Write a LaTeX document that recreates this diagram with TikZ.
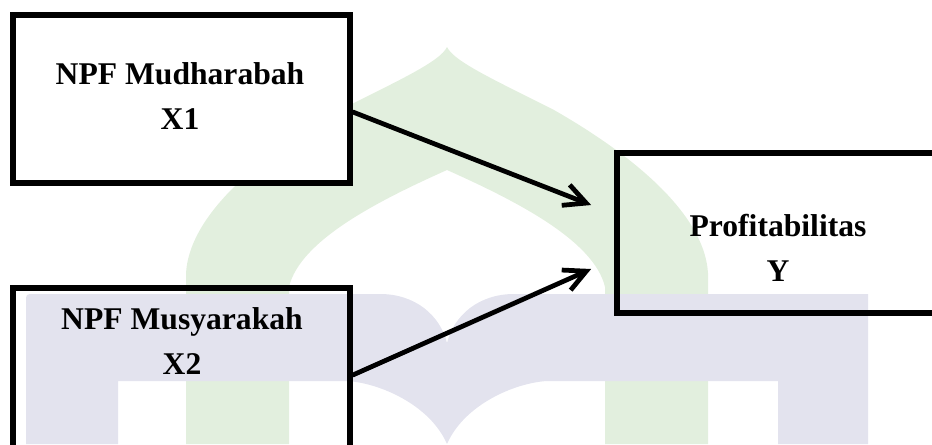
\documentclass[tikz,border=0pt]{standalone}
\usepackage{fontspec}
\setmainfont{Liberation Serif}
\usetikzlibrary{arrows.meta}

\definecolor{domegreen}{RGB}{226,239,222}
\definecolor{bandgray}{RGB}{227,227,238}

\begin{document}
\begin{tikzpicture}[x=0.02cm, y=-0.02cm,
    box/.style={draw=black, line width=3.3pt, inner sep=0pt},
    boxtext/.style={align=center, font=\fontsize{18}{25.6}\selectfont\bfseries},
    link/.style={line width=2.7pt, line cap=round, line join=round,
      -{Straight Barb[length=0.44cm, width=0.44cm]}}]
    \useasboundingbox (0,0) rectangle (932,444);
    \clip (0,0) rectangle (932,444);
    % dome behind the boxes
    \fill[domegreen] (186,444) -- (186,273)
      .. controls (190,210) and (270,150) .. (340,110)
      .. controls (395,82) and (440,62) .. (447,47)
      .. controls (454,62) and (499,82) .. (554,110)
      .. controls (624,150) and (704,210) .. (708,273)
      -- (708,444) -- (605,444) -- (605,287)
      .. controls (594,240) and (514,200) .. (447,170)
      .. controls (380,200) and (300,240) .. (289,287)
      -- (289,444) -- cycle;
    % band with the notch and the point
    \fill[bandgray] (26,444) -- (26,302) .. controls (26,294) .. (34,294)
      -- (380,294)
      .. controls (415,294) and (440,315) .. (447,343)
      .. controls (454,315) and (479,294) .. (514,294)
      -- (868,294) -- (868,444) -- (778,444) -- (778,381) -- (547,381)
      .. controls (514,383) and (464,405) .. (447,444)
      .. controls (430,405) and (380,383) .. (347,381)
      -- (118,381) -- (118,444) -- cycle;
    % boxes
    \node (mud) [box, fill=white, minimum width=6.74cm, minimum height=3.36cm] at (181.5,99) {};
    \node (mudtext) [boxtext] at (180,96) {NPF Mudharabah\\X1};
    \node (mus) [box, minimum width=6.74cm, minimum height=4.64cm] at (181.5,404) {};
    \node (mustext) [boxtext] at (182,341.5) {NPF Musyarakah\\X2};
    \node (prof) [box, minimum width=6.46cm, minimum height=3.2cm] at (778.5,233) {};
    \node (proftext) [boxtext] at (778,248) {Profitabilitas\\Y};
    % arrows
    \draw[link] ([yshift=-0.26cm]mud.east) -- ([xshift=-0.46cm, yshift=0.56cm]prof.west);
    \draw[link] ([yshift=0.58cm]mus.east) -- ([xshift=-0.46cm, yshift=-0.72cm]prof.west);
\end{tikzpicture}
\end{document}
